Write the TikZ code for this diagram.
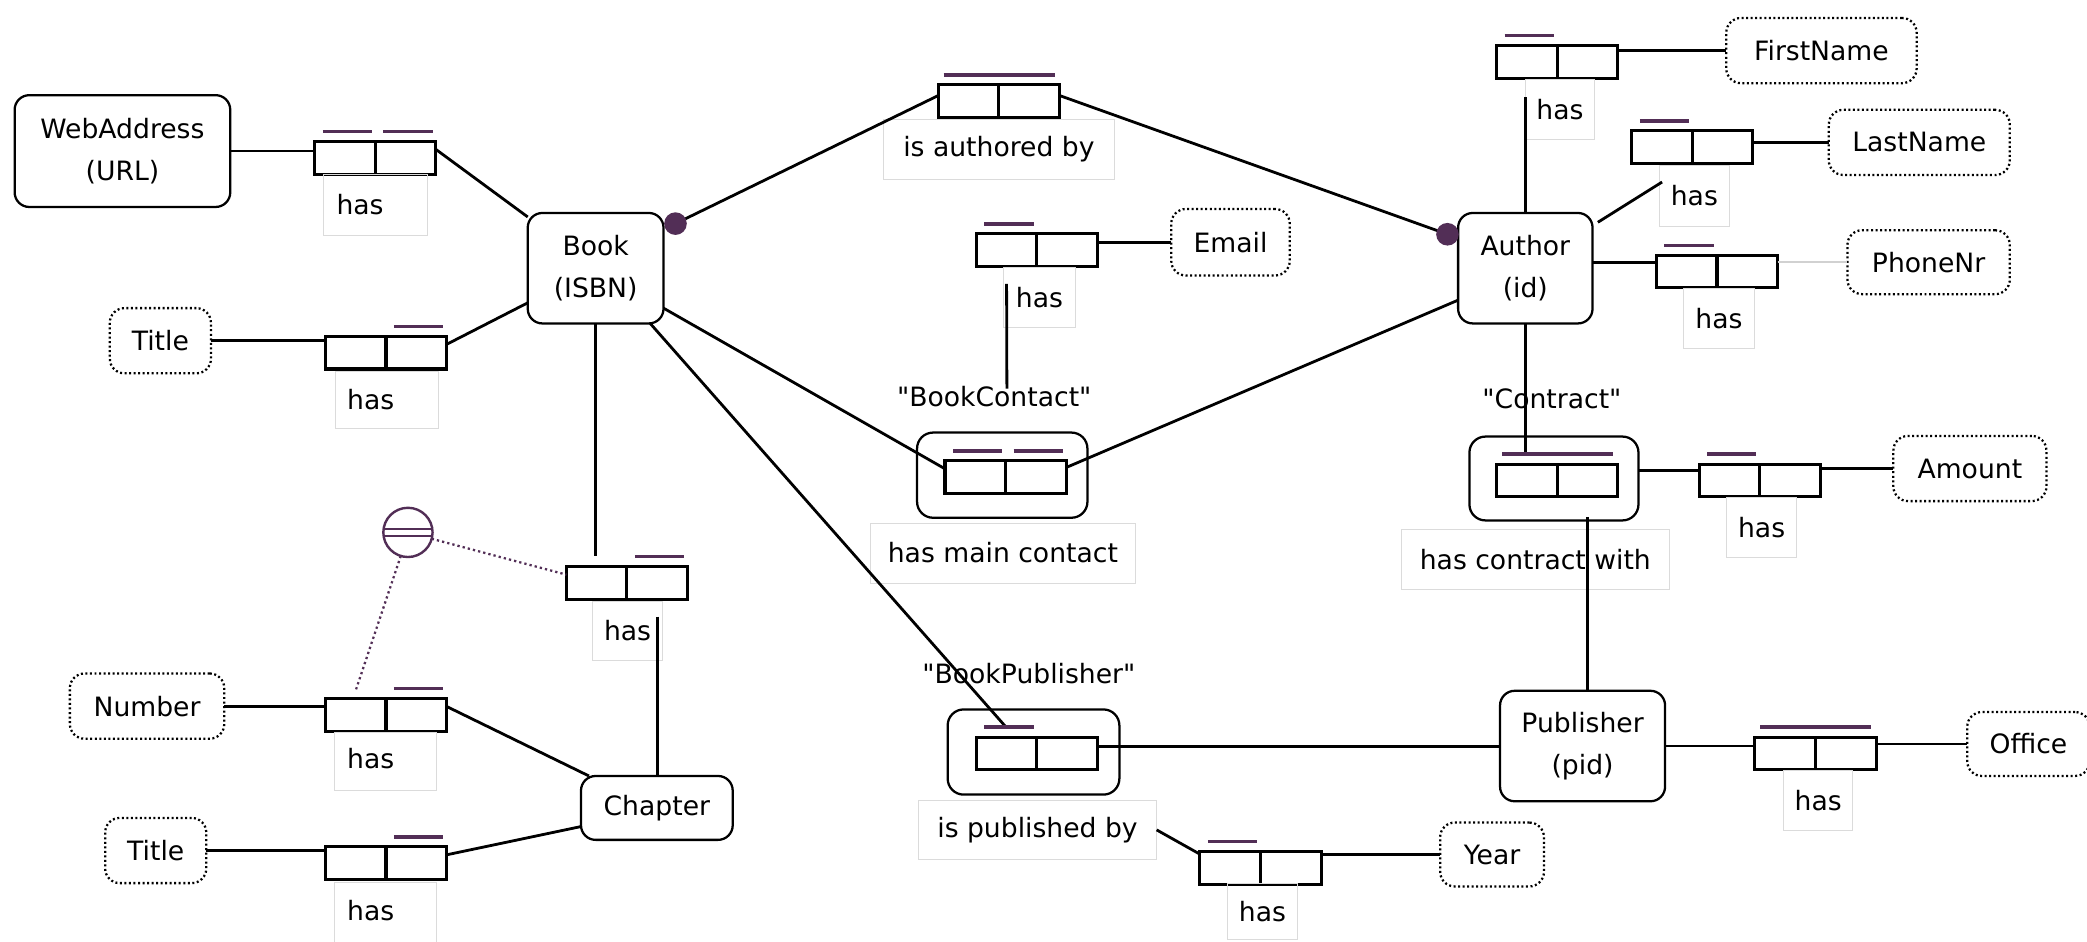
\documentclass[tikz,border=0pt]{standalone}
\usepackage{fontspec}
\setmainfont{DejaVu Sans}
\definecolor{orm}{RGB}{82,46,86}
% straight double quote glyph, bypassing the TeX quote mapping
\newcommand\dq{\XeTeXglyph\XeTeXcharglyph"22\relax}
% two role boxes of a binary fact type, named #1l and #1r
\newcommand\factroles[2]{%
  \node[role, anchor=east] (#1l) at #2 {};
  \node[role, anchor=west] (#1r) at #2 {};}
% uniqueness bar over one role / over both roles
\newcommand\ubarone[1]{\draw[ubar] ([xshift=6pt,yshift=7.5pt]#1.north west) -- ([xshift=-2.5pt,yshift=7.5pt]#1.north east);}
\newcommand\ubarboth[2]{\draw[ubar] ([xshift=4pt,yshift=7.5pt]#1.north west) -- ([xshift=-3.5pt,yshift=7.5pt]#2.north east);}
\begin{document}
\begin{tikzpicture}[x=1pt,y=-1pt,
  every node/.style={font=\fontsize{20}{31}\selectfont},
  entity/.style={draw, line width=1.7pt, rounded corners=11pt, fill=white, align=center, inner sep=0pt, outer sep=0pt},
  valuetype/.style={entity, line width=1.7pt, dash pattern=on 1.5pt off 1.9pt},
  role/.style={draw, line width=2.3pt, fill=white, minimum width=45.5pt, minimum height=24.5pt, inner sep=0pt, outer sep=0pt},
  objframe/.style={draw, line width=1.7pt, rounded corners=12pt, fill=white, inner sep=0pt, outer sep=0pt},
  lblbox/.style={draw=black!14, line width=0.6pt, inner sep=0pt, outer sep=0pt},
  conn/.style={line width=2.1pt},
  faint/.style={draw=black!18, line width=1.2pt},
  ubar/.style={draw=orm, line width=2.6pt},
  constr/.style={draw=orm, line width=1.7pt, dash pattern=on 1.7pt off 2.3pt},
]
\fill[white] (0,0) rectangle (1568,707);
\useasboundingbox (0,0) rectangle (1568,707);

% objectified fact type frames
\node[objframe, minimum width=128pt, minimum height=64pt] (bcframe) at (753,357) {};
\node[objframe, minimum width=129pt, minimum height=64pt] (bpframe) at (776.5,565) {};
\node[objframe, minimum width=127pt, minimum height=63pt] (ctframe) at (1167.5,359.5) {};

% entity types
\node[entity, minimum width=162pt, minimum height=84pt] (waddr) at (92,113.5) {WebAddress\\(URL)};
\node[entity, minimum width=102pt, minimum height=83pt] (book) at (447.5,201.5) {Book\\(ISBN)};
\node[entity, minimum width=101pt, minimum height=83pt] (author) at (1146,201.5) {Author\\(id)};
\node[entity, minimum width=114pt, minimum height=48pt] (chapter) at (493.5,607) {Chapter};
\node[entity, minimum width=124pt, minimum height=83pt] (publisher) at (1189,560.5) {Publisher\\(pid)};

% value types
\node[valuetype, minimum width=76pt, minimum height=49pt] (title1) at (120.5,256) {Title};
\node[valuetype, minimum width=116pt, minimum height=49pt] (number) at (110.5,530.5) {Number};
\node[valuetype, minimum width=76pt, minimum height=49pt] (title2) at (117,639) {Title};
\node[valuetype, minimum width=89pt, minimum height=50pt] (email) at (924.5,182) {Email};
\node[valuetype, minimum width=143pt, minimum height=49pt] (fname) at (1368.5,38) {FirstName};
\node[valuetype, minimum width=136pt, minimum height=49pt] (lname) at (1442,107) {LastName};
\node[valuetype, minimum width=122pt, minimum height=48pt] (phone) at (1449,197) {PhoneNr};
\node[valuetype, minimum width=115pt, minimum height=49pt] (amount) at (1480,352) {Amount};
\node[valuetype, minimum width=92pt, minimum height=48pt, anchor=west] (office) at (1478,559) {Office};
\node[valuetype, minimum width=78pt, minimum height=48pt] (year) at (1121,642) {Year};

% fact types
\factroles{pwa}{(282,118.5)}
\factroles{pti1}{(290,265)}
\factroles{pauth}{(750.5,76)}
\factroles{pem}{(779,188)}
\factroles{pbc}{(755.5,358.5)}
\factroles{pch}{(471,438)}
\factroles{pnum}{(290,537)}
\factroles{pti2}{(290,648.5)}
\factroles{pbp}{(779,566)}
\factroles{pyr}{(947,652)}
\factroles{pfn}{(1170,46.5)}
\factroles{pln}{(1271.5,110.5)}
\factroles{pph}{(1290,204)}
\factroles{pct}{(1170,361)}
\factroles{pam}{(1322,361)}
\factroles{pof}{(1364,566)}

% reading labels
\node[lblbox, minimum width=78pt, minimum height=46pt] (lwa) at (282,154) {};
\node (twa) at (270.5,154) {has};
\node[lblbox, minimum width=77pt, minimum height=43pt] (lti1) at (290.5,300.5) {};
\node (tti1) at (278.5,300) {has};
\node[lblbox, minimum width=173pt, minimum height=45pt] (lauth) at (750.5,112) {is authored by};
\node[lblbox, minimum width=54pt, minimum height=45pt] (lem) at (781,223.5) {has};
\node[lblbox, minimum width=199pt, minimum height=45pt] (lbc) at (753.5,415.5) {has main contact};
\node[lblbox, minimum width=53pt, minimum height=44pt] (lch) at (471.5,474) {has};
\node[lblbox, minimum width=77pt, minimum height=44pt] (lnum) at (289.5,572) {};
\node (tnum) at (278.5,570) {has};
\node[lblbox, minimum width=77pt, minimum height=46pt] (lti2) at (289.5,686) {};
\node (tti2) at (278.5,684) {has};
\node[lblbox, minimum width=179pt, minimum height=45pt] (lbp) at (779.5,623.5) {is published by};
\node[lblbox, minimum width=53pt, minimum height=42pt] (lyr) at (948.5,685) {has};
\node[lblbox, minimum width=52pt, minimum height=45pt] (lfn) at (1172,82.5) {has};
\node[lblbox, minimum width=52pt, minimum height=46pt] (lln) at (1273,147) {has};
\node[lblbox, minimum width=53pt, minimum height=45pt] (lph) at (1291.5,239.5) {has};
\node[lblbox, minimum width=201pt, minimum height=45pt] (lct) at (1153.5,420.5) {has contract with};
\node[lblbox, minimum width=53pt, minimum height=45pt] (lam) at (1323.5,396.5) {has};
\node[lblbox, minimum width=52pt, minimum height=45pt] (lof) at (1366,601.5) {has};

% names of objectified fact types
\node (nbc) at (747,298) {\dq BookContact\dq};
\node (nbp) at (773,506) {\dq BookPublisher\dq};
\node (nct) at (1166,300) {\dq Contract\dq};

% mandatory role dots and free connector ends
\coordinate (bookdot) at ([xshift=9pt,yshift=-8pt]book.north east);
\coordinate (authdot) at ([xshift=-8pt,yshift=-16pt]author.north west);
\coordinate (bcend) at (756.5,292);

% role connectors
\draw[conn] (waddr.east) -- (waddr.east -| pwal.west);
\draw[conn] ([yshift=-6pt]pwar.north east) -- ([yshift=-3pt]book.north west);
\draw[conn] (title1.east) -- (title1.east -| pti1l.west);
\draw[conn] ([yshift=-6pt]pti1r.north east) -- ([yshift=-26pt]book.west);
\draw[conn] (bookdot) -- ([yshift=-8pt]pauthl.north west);
\draw[conn] ([yshift=-8pt]pauthr.north east) -- (authdot);
\draw[conn] (pemr.east |- email.west) -- (email.west);
\draw[conn] ([yshift=-13pt]peml.south) -- (bcend);
\draw[conn] ([yshift=-30pt]book.east) -- ([yshift=-6pt]pbcl.north west);
\draw[conn] ([yshift=-24pt]author.west) -- ([yshift=-5pt]pbcr.north east);
\draw[conn] (book.south) -- ([yshift=8pt]book.south |- pchl.north);
\draw[conn] ([yshift=-13pt]pchr.south) -- (pchr.south |- chapter.north);
\draw[conn] (number.east) -- (number.east -| pnuml.west);
\draw[conn] ([yshift=-6pt]pnumr.north east) -- ([xshift=6pt]chapter.north west);
\draw[conn] (title2.east) -- (title2.east -| pti2l.west);
\draw[conn] ([yshift=-6pt]pti2r.north east) -- ([yshift=-14pt]chapter.west);
\draw[conn] ([xshift=-10pt]book.south east) -- ([yshift=7pt]pbpl.north);
\draw[conn] ([yshift=-7pt]pbpr.north east) -- ([yshift=-7pt]pbpr.north east -| publisher.west);
\draw[conn] (lbp.east) -- ([yshift=-2pt]pyrl.north west);
\draw[conn] (pyrr.east |- year.west) -- (year.west);
\draw[conn] (author.north) -- ([yshift=-14pt]author.north |- pfnl.south);
\draw[conn] (pfnr.east |- fname.west) -- (fname.west);
\draw[conn] ([xshift=4pt,yshift=-7pt]author.north east) -- ([yshift=-14pt]plnl.south);
\draw[conn] (plnr.east |- lname.west) -- (lname.west);
\draw[conn] ([yshift=4pt]author.east) -- ([yshift=4pt]author.east -| pphl.west);
\draw[faint] (pphr.east |- phone.west) -- (phone.west);
\draw[conn] (author.south) -- ([yshift=7pt]author.south |- pctl.north);
\draw[conn] ([yshift=-15pt]pctr.south) -- (pctr.south |- publisher.north);
\draw[conn] ([yshift=-5pt]paml.north west -| ctframe.east) -- ([yshift=-5pt]paml.north west);
\draw[conn] (pamr.east |- amount.west) -- (amount.west);
\draw[conn] (publisher.east) -- (publisher.east -| pofl.west);
\draw[conn] (pofr.east |- office.west) -- (office.west);

\fill[orm] (bookdot) circle (8.5pt);
\fill[orm] (authdot) circle (8.5pt);

% uniqueness constraints
\ubarone{pwal}\ubarone{pwar}
\ubarone{pti1r}
\ubarboth{pauthl}{pauthr}
\ubarone{peml}
\ubarone{pbcl}\ubarone{pbcr}
\ubarone{pchr}
\ubarone{pnumr}
\ubarone{pti2r}
\ubarone{pbpl}
\ubarone{pyrl}
\ubarone{pfnl}
\ubarone{plnl}
\ubarone{pphl}
\ubarboth{pctl}{pctr}
\ubarone{paml}
\ubarboth{pofl}{pofr}

% external preferred identifier for Chapter
\node[draw=orm, line width=1.8pt, circle, fill=white, minimum size=37pt, inner sep=0pt, outer sep=0pt] (eqc) at (306.5,400) {};
\draw[orm, line width=1.6pt] ([yshift=2.6pt]eqc.west) -- ([yshift=2.6pt]eqc.east);
\draw[orm, line width=1.6pt] ([yshift=-2.6pt]eqc.west) -- ([yshift=-2.6pt]eqc.east);
\draw[constr] (eqc.-15) -- ([yshift=-6pt]pchl.north west);
\draw[constr] (eqc.-107) -- ([yshift=6pt]pnuml.north);
\end{tikzpicture}
\end{document}
